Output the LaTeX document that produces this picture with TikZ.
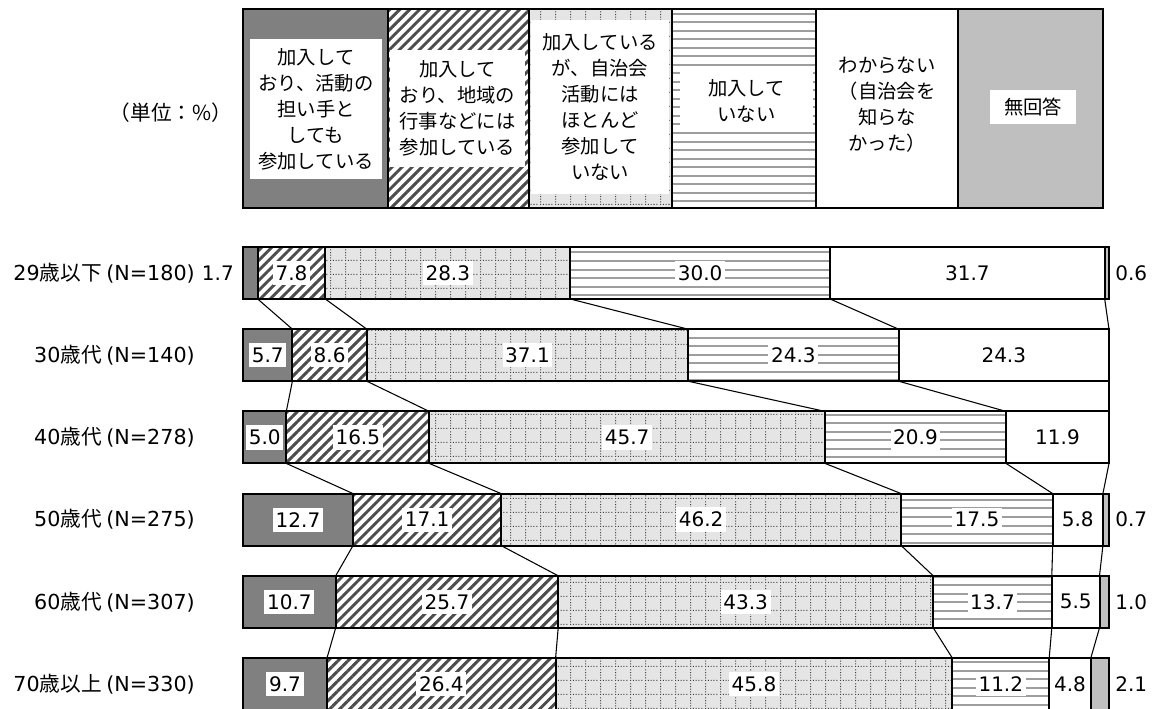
\documentclass[tikz,border=0pt]{standalone}
\usepackage{fontspec}
\setmainfont{Noto Sans CJK JP}
\newfontfamily\dv{DejaVu Sans}
\usetikzlibrary{patterns.meta}

\pgfdeclarepattern{
  name=dotgrid,
  type=uncolored,
  bottom left={\pgfpoint{0pt}{0pt}},
  top right={\pgfpoint{11.25pt}{10.5pt}},
  tile size={\pgfpoint{11.25pt}{10.5pt}},
  code={
    \pgfpathrectangle{\pgfpoint{0pt}{0pt}}{\pgfpoint{0.8pt}{0.8pt}}
    \pgfpathrectangle{\pgfpoint{0pt}{2.1pt}}{\pgfpoint{0.8pt}{0.8pt}}
    \pgfpathrectangle{\pgfpoint{0pt}{4.2pt}}{\pgfpoint{0.8pt}{0.8pt}}
    \pgfpathrectangle{\pgfpoint{0pt}{6.3pt}}{\pgfpoint{0.8pt}{0.8pt}}
    \pgfpathrectangle{\pgfpoint{0pt}{8.4pt}}{\pgfpoint{0.8pt}{0.8pt}}
    \pgfpathrectangle{\pgfpoint{2.25pt}{0pt}}{\pgfpoint{0.8pt}{0.8pt}}
    \pgfpathrectangle{\pgfpoint{4.5pt}{0pt}}{\pgfpoint{0.8pt}{0.8pt}}
    \pgfpathrectangle{\pgfpoint{6.75pt}{0pt}}{\pgfpoint{0.8pt}{0.8pt}}
    \pgfpathrectangle{\pgfpoint{9pt}{0pt}}{\pgfpoint{0.8pt}{0.8pt}}
    \pgfusepath{fill}
  }
}

\pgfdeclarepattern{
  name=hbands,
  type=uncolored,
  bottom left={\pgfpoint{-0.5pt}{0pt}},
  top right={\pgfpoint{40.5pt}{6.4pt}},
  tile size={\pgfpoint{40pt}{6.4pt}},
  code={
    \pgfpathrectangle{\pgfpoint{-0.5pt}{2.45pt}}{\pgfpoint{41pt}{1.5pt}}
    \pgfusepath{fill}
  }
}

\tikzset{
  outl/.style={draw=black, line width=1.5pt},
  legoutl/.style={draw=black, line width=2pt},
  conn/.style={draw=black, line width=0.8pt},
  c1/.style={fill=black!50},
  c2/.style={preaction={fill=white}, pattern={Lines[angle=45,distance=5.3pt,line width=2.2pt]}, pattern color=black!70},
  c3/.style={preaction={fill=black!10}, pattern={dotgrid}, pattern color=black!75},
  c4/.style={preaction={fill=white}, pattern={hbands}, pattern color=black!38},
  c5/.style={fill=white},
  c6/.style={fill=black!25},
  val/.style={font=\dv\fontsize{15}{18}\selectfont, fill=white, inner xsep=2pt, inner ysep=3.5pt},
  oval/.style={font=\dv\fontsize{15}{18}\selectfont, inner sep=0pt},
  rowlab/.style={font=\fontsize{15.5}{18}\selectfont, inner sep=0pt, anchor=east},
  legtxt/.style={font=\fontsize{14.5}{19.5}\selectfont, align=center, inner sep=0pt, fill=white},
}

\begin{document}
\begin{tikzpicture}[x=0.75pt,y=-0.75pt]
\useasboundingbox (0,0) rectangle (1163,709);

% ---------- legend ----------
\foreach \xa/\xb/\k in {243/388/1, 388/529/2, 529/672/3, 672/816/4, 816/958/5, 958/1103/6}{
  \coordinate (lgt\k) at (\xa,9);
  \coordinate (lgb\k) at (\xb,208);
  \path[c\k] (lgt\k) rectangle (lgb\k);
}
\foreach \k in {1,...,6}{
  \draw[legoutl] (lgt\k) rectangle (lgb\k);
}

\node[legtxt, minimum width=99pt, minimum height=105pt] (lg1) at (316,109)
  {加入して\\おり、活動の\\担い手と\\しても\\参加している};
\node[legtxt, minimum width=101.25pt, minimum height=87.75pt] (lg2) at (457.5,108.5)
  {加入して\\おり、地域の\\行事などには\\参加している};
\node[legtxt, minimum width=103.5pt, minimum height=130.5pt] (lg3) at (600,107)
  {加入している\\が、自治会\\活動には\\ほとんど\\参加して\\いない};
\node[legtxt, minimum width=99.75pt, minimum height=45.75pt] (lg4) at (746.5,101.5)
  {加入して\\いない};
\node[legtxt] (lg5) at (887,104.5)
  {わからない\\（自治会を\\知らな\\かった）};
\node[legtxt, minimum width=64.5pt, minimum height=25.5pt] (lg6) at (1033,107)
  {無回答};

\node[font=\fontsize{15.5}{18}\selectfont, inner sep=0pt] (unit) at (171,113) {（単位：\%）};

% ---------- boundary coordinates ----------
\foreach \r/\yt/\yb/\lst in {
  1/247/299/{243,257.7,325.3,570.3,830.1,1104.7,1109},
  2/329.2/381.2/{243,292.4,366.8,688.1,898.6,1109,1109},
  3/411.4/463.4/{243,286.3,429.2,825.0,1006.0,1109,1109},
  4/493.6/545.6/{243,353.0,501.1,901.2,1052.7,1102.9,1109},
  5/575.8/627.8/{243,335.7,558.2,933.2,1051.8,1099.5,1109},
  6/658/710/{243,327.0,555.6,952.3,1049.2,1090.8,1109}}{
  \foreach \x [count=\k] in \lst {
    \coordinate (t\r-\k) at (\x,\yt);
    \coordinate (b\r-\k) at (\x,\yb);
  }
}

% ---------- bars ----------
\foreach \r in {1,...,6}{
  \foreach \k [evaluate=\k as \kn using int(\k+1)] in {1,...,6}{
    \path[c\k] (t\r-\k) rectangle (b\r-\kn);
    \draw[outl] (t\r-\k) rectangle (b\r-\kn);
  }
}

% ---------- connectors ----------
\foreach \r [evaluate=\r as \n using int(\r+1)] in {1,...,5}{
  \foreach \k in {2,...,6}{
    \draw[conn] (b\r-\k) -- (t\n-\k);
  }
}

% ---------- row labels ----------
\node[rowlab] (row1) at (195,273) {{\dv 29}歳以下 {\dv (N=180)}};
\node[rowlab] (row2) at (195,355.2) {{\dv 30}歳代 {\dv (N=140)}};
\node[rowlab] (row3) at (195,437.4) {{\dv 40}歳代 {\dv (N=278)}};
\node[rowlab] (row4) at (195,519.6) {{\dv 50}歳代 {\dv (N=275)}};
\node[rowlab] (row5) at (195,601.8) {{\dv 60}歳代 {\dv (N=307)}};
\node[rowlab] (row6) at (195,684) {{\dv 70}歳以上 {\dv (N=330)}};

% ---------- values ----------
\node[oval, anchor=east] (v11) at (234,273) {1.7};
\node[val] (v12) at (291.5,273) {7.8};
\node[val] (v13) at (447.8,273) {28.3};
\node[val] (v14) at (700.2,273) {30.0};
\node[val] (v15) at (967.4,273) {31.7};
\node[oval, anchor=west] (v16) at (1115,273) {0.6};

\node[val] (v21) at (267.7,355.2) {5.7};
\node[val] (v22) at (329.6,355.2) {8.6};
\node[val] (v23) at (527.5,355.2) {37.1};
\node[val] (v24) at (793.4,355.2) {24.3};
\node[val] (v25) at (1003.8,355.2) {24.3};

\node[val] (v31) at (264.7,437.4) {5.0};
\node[val] (v32) at (357.8,437.4) {16.5};
\node[val] (v33) at (627.1,437.4) {45.7};
\node[val] (v34) at (915.5,437.4) {20.9};
\node[val] (v35) at (1057.5,437.4) {11.9};

\node[val] (v41) at (298,519.6) {12.7};
\node[val] (v42) at (427.1,519.6) {17.1};
\node[val] (v43) at (701.2,519.6) {46.2};
\node[val] (v44) at (977,519.6) {17.5};
\node[val] (v45) at (1077.8,519.6) {5.8};
\node[oval, anchor=west] (v46) at (1115,519.6) {0.7};

\node[val] (v51) at (289.4,601.8) {10.7};
\node[val] (v52) at (447,601.8) {25.7};
\node[val] (v53) at (745.7,601.8) {43.3};
\node[val] (v54) at (992.5,601.8) {13.7};
\node[val] (v55) at (1075.7,601.8) {5.5};
\node[oval, anchor=west] (v56) at (1115,601.8) {1.0};

\node[val] (v61) at (285,684) {9.7};
\node[val] (v62) at (441.3,684) {26.4};
\node[val] (v63) at (754,684) {45.8};
\node[val] (v64) at (1000.8,684) {11.2};
\node[val] (v65) at (1070,684) {4.8};
\node[oval, anchor=west] (v66) at (1115,684) {2.1};
\end{tikzpicture}
\end{document}
